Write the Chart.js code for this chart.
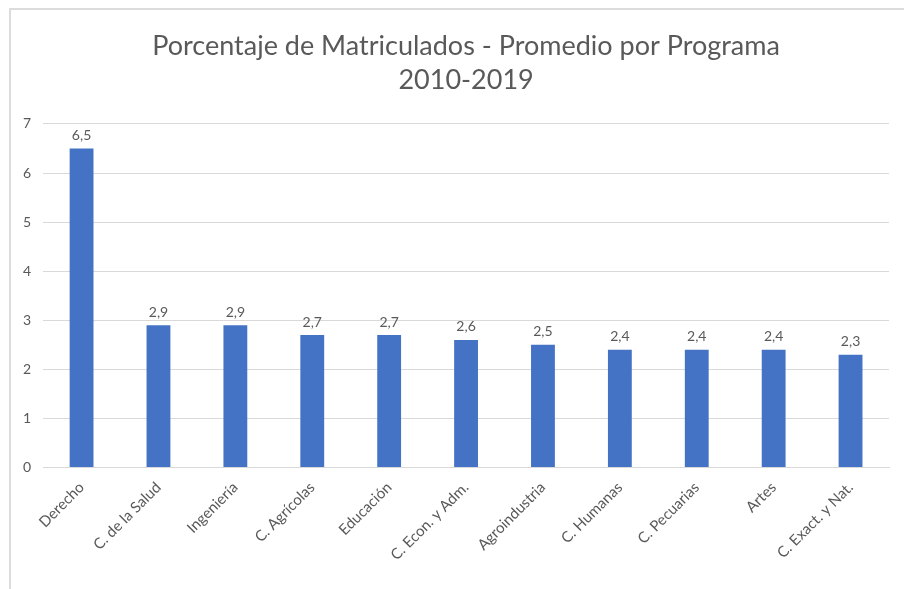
<!DOCTYPE html>
<html>
<head>
<meta charset="utf-8">
<script src="https://cdn.jsdelivr.net/npm/chart.js@4/dist/chart.umd.min.js"></script>
<style>
  html, body { margin: 0; padding: 0; background: #fff; }
  #wrap {
    position: absolute; left: 9px; top: 8px; width: 895px; height: 581px;
    border-top: 2px solid #dcdcdc; border-left: 2px solid #dcdcdc;
    box-sizing: border-box;
  }
  #myChart { position: absolute; left: 0; top: 0; }
</style>
</head>
<body>
<div id="wrap"><canvas id="myChart" width="893" height="579"></canvas></div>
<script>
const programas = ['Derecho', 'C. de la Salud', 'Ingeniería', 'C. Agrícolas', 'Educación',
    'C. Econ. y Adm.', 'Agroindustria', 'C. Humanas', 'C. Pecuarias', 'Artes', 'C. Exact. y Nat.'];
const promedios = [6.5, 2.9, 2.9, 2.7, 2.7, 2.6, 2.5, 2.4, 2.4, 2.4, 2.3];
const yTicks = [0, 1, 2, 3, 4, 5, 6, 7];

const gris = '#595959';
const fuente = "Lato, 'Open Sans', sans-serif";

// etiquetas de valor encima de cada barra (coma decimal)
const etiquetas = {
    id: 'etiquetas',
    afterDatasetsDraw(chart) {
        const c = chart.ctx;
        const meta = chart.getDatasetMeta(0);
        c.save();
        c.fillStyle = gris;
        c.font = '14px ' + fuente;
        c.textAlign = 'center';
        c.textBaseline = 'bottom';
        meta.data.forEach(function(bar, i) {
            c.fillText(promedios[i].toFixed(1).replace('.', ','), bar.x, bar.y - 6);
        });
        c.restore();
    }
};

const ctx = document.getElementById('myChart').getContext('2d');

var graphData = {
    type: 'bar',
    data: {
        labels: programas,
        datasets: [{
            data: promedios,
            backgroundColor: '#4472C4',
            barPercentage: 0.31,
            categoryPercentage: 1
        }]
    },
    options: {
        responsive: false,
        animation: false,
        layout: { padding: { left: 0, right: 15, top: 0, bottom: 22 } },
        plugins: {
            legend: { display: false },
            tooltip: { enabled: false },
            title: {
                display: true,
                fullSize: false,
                text: ['Porcentaje de Matriculados - Promedio por Programa', '2010-2019'],
                color: gris,
                font: { family: fuente, size: 27, weight: 'normal', lineHeight: 1.24 },
                padding: { top: 20, bottom: 27 }
            }
        },
        scales: {
            x: {
                grid: { display: false },
                border: { color: '#d9d9d9' },
                ticks: {
                    color: gris,
                    font: { family: fuente, size: 15 },
                    minRotation: 45,
                    maxRotation: 45,
                    autoSkip: false
                }
            },
            y: {
                min: 0,
                max: 7,
                afterBuildTicks(axis) { axis.ticks = yTicks.map(v => ({ value: v })); },
                grid: { color: '#d9d9d9', drawTicks: false },
                border: { display: false },
                ticks: {
                    color: gris,
                    font: { family: fuente, size: 14 },
                    padding: 12
                }
            }
        }
    },
    plugins: [etiquetas]
};

const myChart = new Chart(ctx, graphData);
</script>
</body>
</html>
